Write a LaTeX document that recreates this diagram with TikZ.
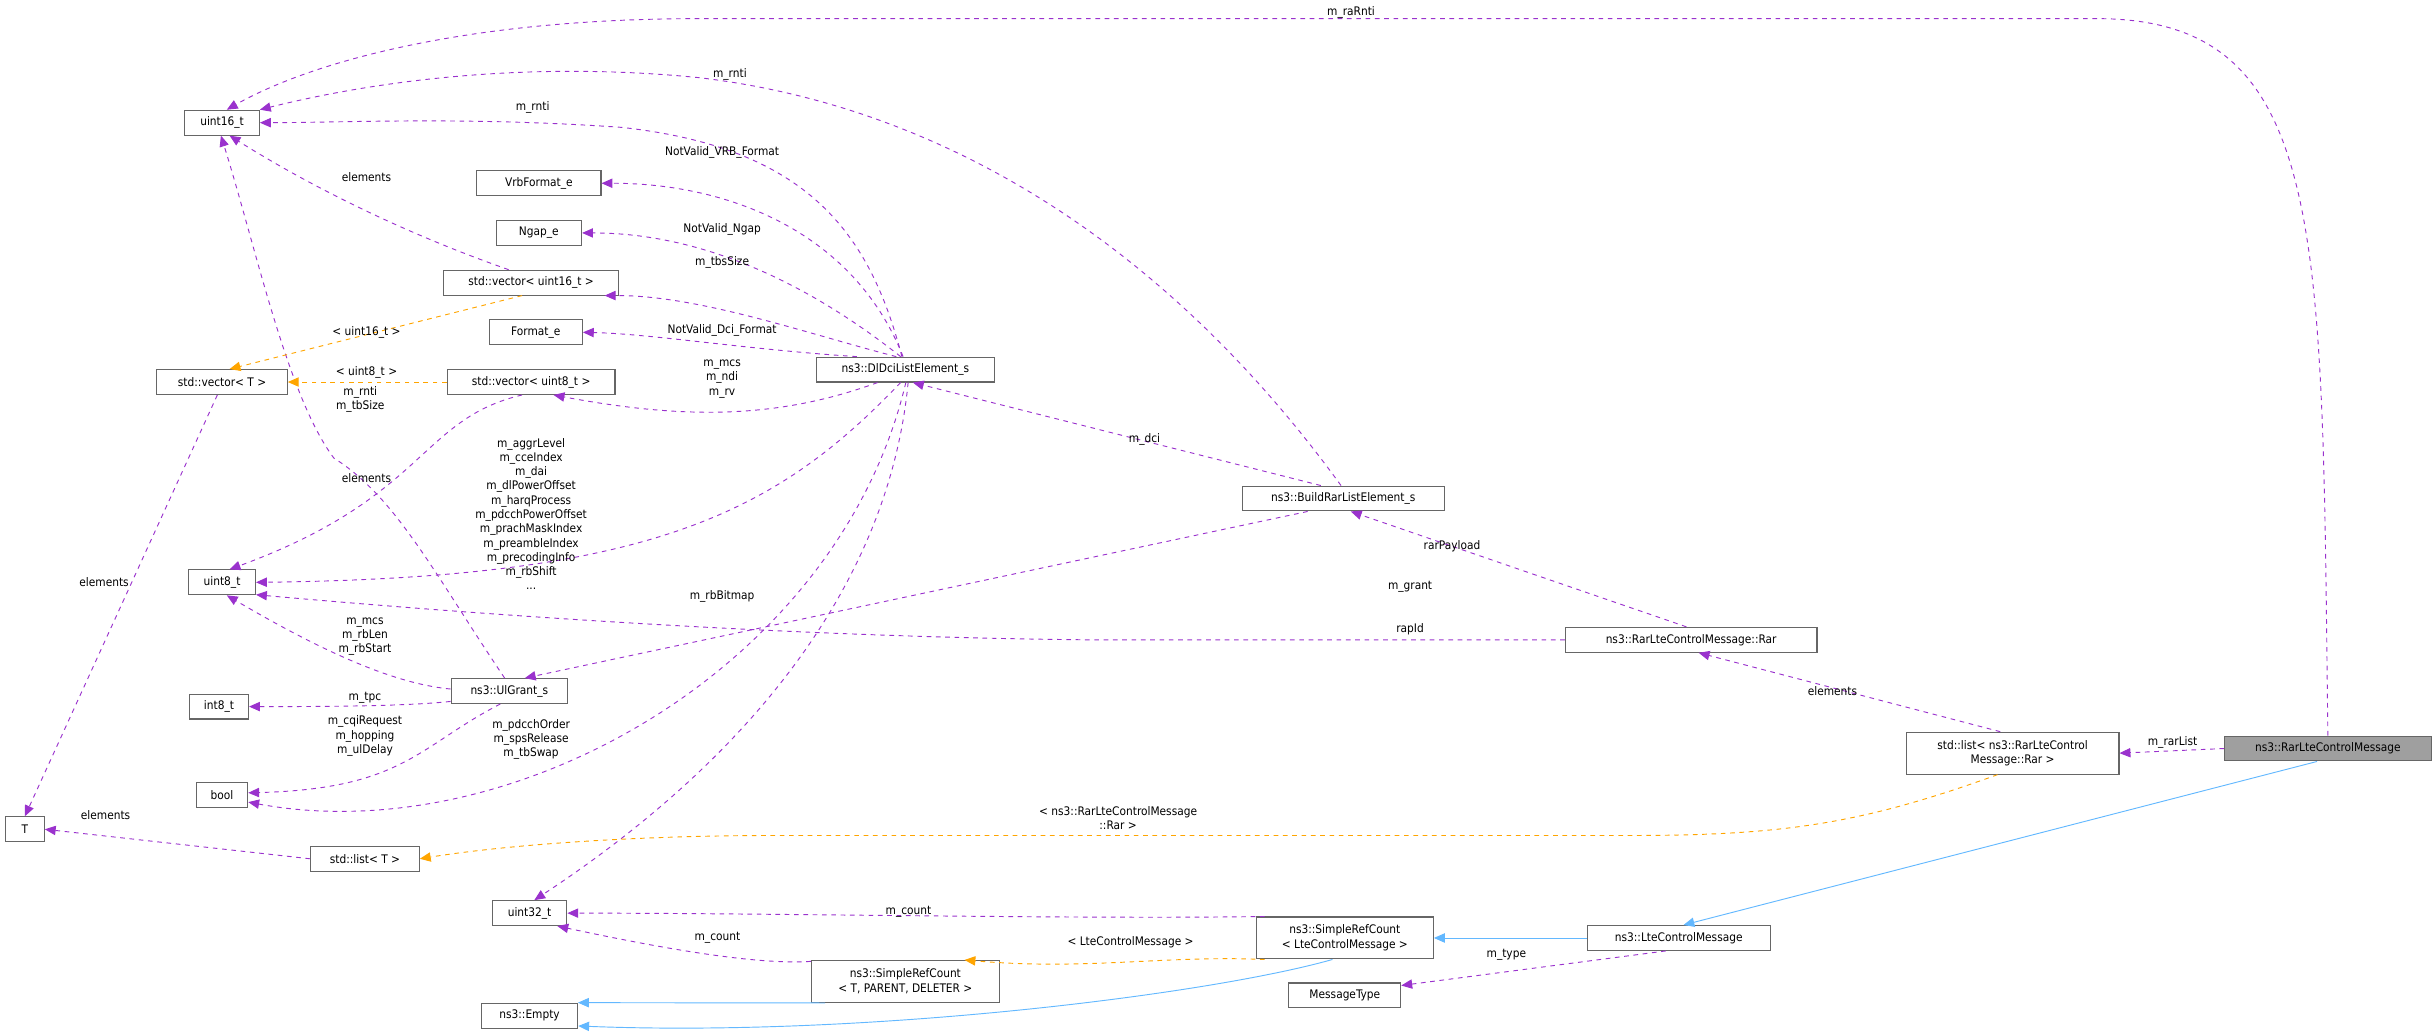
\documentclass[tikz,border=0pt]{standalone}
\usepackage{fontspec}
\setmainfont{DejaVu Sans Condensed}
\usetikzlibrary{arrows.meta}
\definecolor{pur}{HTML}{9A32CD}
\definecolor{org}{HTML}{FFA500}
\definecolor{blu}{HTML}{63B8FF}
\definecolor{bdr}{HTML}{666666}
\begin{document}
\begin{tikzpicture}[x=1pt,y=-1pt,
  box/.style={draw=bdr,fill=white,line width=0.7pt,minimum height=16pt,inner sep=1pt,font=\fontsize{7.6}{9.4}\selectfont,align=center},
  lbl/.style={font=\fontsize{7.6}{9.2}\selectfont,align=center,inner sep=0pt},
  pe/.style={draw=pur,dashed,line width=0.6pt,-{Triangle[length=7pt,width=6pt]}},
  oe/.style={draw=org,dashed,line width=0.6pt,-{Triangle[length=7pt,width=6pt]}},
  be/.style={draw=blu,line width=0.6pt,-{Triangle[length=7pt,width=6pt]}}]
\useasboundingbox (0,0) rectangle (1568,666);
\node[box,minimum width=48] (u16) at (143,79) {uint16\_t};
\node[box,minimum width=80] (vrb) at (347,118) {VrbFormat\_e};
\node[box,minimum width=55] (ngap) at (347,150) {Ngap\_e};
\node[box,minimum width=113] (v16) at (342,182) {std::vector< uint16\_t >};
\node[box,minimum width=60] (fmt) at (345,214) {Format\_e};
\node[box,minimum width=84] (vt) at (143,246) {std::vector< T >};
\node[box,minimum width=108] (v8) at (342,246) {std::vector< uint8\_t >};
\node[box,minimum width=115] (dl) at (583,238) {ns3::DlDciListElement\_s};
\node[box,minimum width=130] (bre) at (865,321) {ns3::BuildRarListElement\_s};
\node[box,minimum width=43] (u8) at (143,375) {uint8\_t};
\node[box,minimum width=162] (rar) at (1089,412) {ns3::RarLteControlMessage::Rar};
\node[box,minimum width=38] (i8) at (141,455) {int8\_t};
\node[box,minimum width=75] (ul) at (328,445) {ns3::UlGrant\_s};
\node[box,minimum width=137,minimum height=27] (lr) at (1296,485) {std::list< ns3::RarLteControl\\Message::Rar >};
\node[box,minimum width=133,fill=gray!75] (rm) at (1499,482) {ns3::RarLteControlMessage};
\node[box,minimum width=33] (bool) at (143,512) {bool};
\node[box,minimum width=25] (T) at (16,534) {T};
\node[box,minimum width=70] (lt) at (235,553) {std::list< T >};
\node[box,minimum width=48] (u32) at (341,588) {uint32\_t};
\node[box,minimum width=114,minimum height=27] (src) at (866,604) {ns3::SimpleRefCount\\< LteControlMessage >};
\node[box,minimum width=118] (lcm) at (1081,604) {ns3::LteControlMessage};
\node[box,minimum width=121,minimum height=27] (srt) at (583,632) {ns3::SimpleRefCount\\< T, PARENT, DELETER >};
\node[box,minimum width=72] (mt) at (866,641) {MessageType};
\node[box,minimum width=62] (emp) at (341,654) {ns3::Empty};
% edges
\draw[pe] (rm.north) .. controls (1495,150) and (1500,12) .. (1350,12) -- (450,12) .. controls (300,12) and (200,40) .. (u16.70);
\node[lbl] (l1) at (870,8) {m\_raRnti};
\draw[pe] (bre.100) .. controls (760,170) and (620,70) .. (450,50) .. controls (330,38) and (230,55) .. (u16.north east);
\node[lbl] (l2) at (470,48) {m\_rnti};
\draw[pe] (dl.105) .. controls (560,150) and (520,95) .. (400,82) .. controls (300,75) and (220,79) .. (u16.east);
\node[lbl] (l3) at (343,69) {m\_rnti};
\draw[pe] (v16.150) .. controls (260,150) and (200,120) .. (u16.-60);
\node[lbl] (l4) at (236,114) {elements};
\draw[pe] (ul.110) .. controls (280,370) and (255,320) .. (215,295) .. controls (185,255) and (165,160) .. (u16.-95);
\node[lbl] (l5) at (232,257) {m\_rnti\\m\_tbSize};
\draw[pe] (dl.100) .. controls (550,150) and (470,118) .. (vrb.east);
\node[lbl] (l6) at (465,98) {NotValid\_VRB\_Format};
\draw[pe] (dl.110) .. controls (530,190) and (460,150) .. (ngap.east);
\node[lbl] (l7) at (465,148) {NotValid\_Ngap};
\draw[pe] (dl.125) .. controls (520,215) and (450,190) .. (v16.-10);
\node[lbl] (l8) at (465,169) {m\_tbsSize};
\draw[pe] (dl.165) .. controls (480,225) and (420,215) .. (fmt.east);
\node[lbl] (l9) at (465,213) {NotValid\_Dci\_Format};
\draw[pe] (dl.205) .. controls (500,270) and (440,270) .. (v8.-30);
\node[lbl] (l10) at (465,244) {m\_mcs\\m\_ndi\\m\_rv};
\draw[oe] (v16.235) -- (vt.60);
\node[lbl] (l11) at (236,214) {< uint16\_t >};
\draw[oe] (v8.west) -- (vt.east);
\node[lbl] (l12) at (236,240) {< uint8\_t >};
\draw[pe] (v8.235) .. controls (270,270) and (275,320) .. (u8.60);
\node[lbl] (l13) at (236,308) {elements};
\draw[pe] (dl.250) .. controls (500,330) and (420,372) .. (u8.east);
\node[lbl] (l14) at (342,331) {m\_aggrLevel\\m\_cceIndex\\m\_dai\\m\_dlPowerOffset\\m\_harqProcess\\m\_pdcchPowerOffset\\m\_prachMaskIndex\\m\_preambleIndex\\m\_precodingInfo\\m\_rbShift\\...};
\draw[pe] (rar.west) -- (700,412) .. controls (500,410) and (300,395) .. (u8.-20);
\node[lbl] (l15) at (908,405) {rapId};
\draw[pe] (bre.200) -- (ul.40);
\node[lbl] (l16) at (908,378) {m\_grant};
\draw[pe] (ul.178) .. controls (250,440) and (200,415) .. (u8.-70);
\node[lbl] (l17) at (235,410) {m\_mcs\\m\_rbLen\\m\_rbStart};
\draw[pe] (ul.190) .. controls (260,455) and (200,455) .. (i8.east);
\node[lbl] (l18) at (235,449) {m\_tpc};
\draw[pe] (ul.235) .. controls (270,480) and (260,508) .. (bool.5);
\node[lbl] (l19) at (235,474) {m\_cqiRequest\\m\_hopping\\m\_ulDelay};
\draw[pe] (dl.272) .. controls (540,430) and (330,548) .. (bool.-15);
\node[lbl] (l20) at (342,476) {m\_pdcchOrder\\m\_spsRelease\\m\_tbSwap};
\draw[pe] (dl.282) .. controls (570,400) and (450,510) .. (u32.70);
\node[lbl] (l21) at (465,384) {m\_rbBitmap};
\draw[pe] (bre.150) -- (dl.-60);
\node[lbl] (l22) at (737,283) {m\_dci};
\draw[pe] (rar.110) -- (bre.-60);
\node[lbl] (l23) at (935,352) {rarPayload};
\draw[pe] (lr.120) -- (rar.-60);
\node[lbl] (l24) at (1180,445) {elements};
\draw[pe] (rm.west) -- (lr.east);
\node[lbl] (l25) at (1399,478) {m\_rarList};
\draw[oe] (lr.235) .. controls (1200,530) and (1150,538) .. (1050,538) -- (500,538) .. controls (400,538) and (320,545) .. (lt.east);
\node[lbl] (l26) at (720,527) {< ns3::RarLteControlMessage\\::Rar >};
\draw[pe] (lt.west) -- (T.east);
\node[lbl] (l27) at (68,525) {elements};
\draw[pe] (vt.250) -- (T.north);
\node[lbl] (l28) at (67,375) {elements};
\draw[be] (rm.230) -- (lcm.70);
\draw[be] (lcm.west) -- (src.east);
\draw[pe] (src.165) .. controls (700,592) and (500,588) .. (u32.east);
\node[lbl] (l31) at (585,587) {m\_count};
\draw[oe] (src.195) .. controls (750,615) and (700,625) .. (srt.20);
\node[lbl] (l32) at (728,607) {< LteControlMessage >};
\draw[pe] (srt.168) .. controls (480,622) and (400,605) .. (u32.-25);
\node[lbl] (l33) at (462,604) {m\_count};
\draw[be] (srt.195) -- (emp.15);
\draw[be] (src.240) .. controls (780,640) and (560,668) .. (emp.-12);
\draw[pe] (lcm.225) -- (mt.10);
\node[lbl] (l36) at (970,615) {m\_type};
\end{tikzpicture}
\end{document}
